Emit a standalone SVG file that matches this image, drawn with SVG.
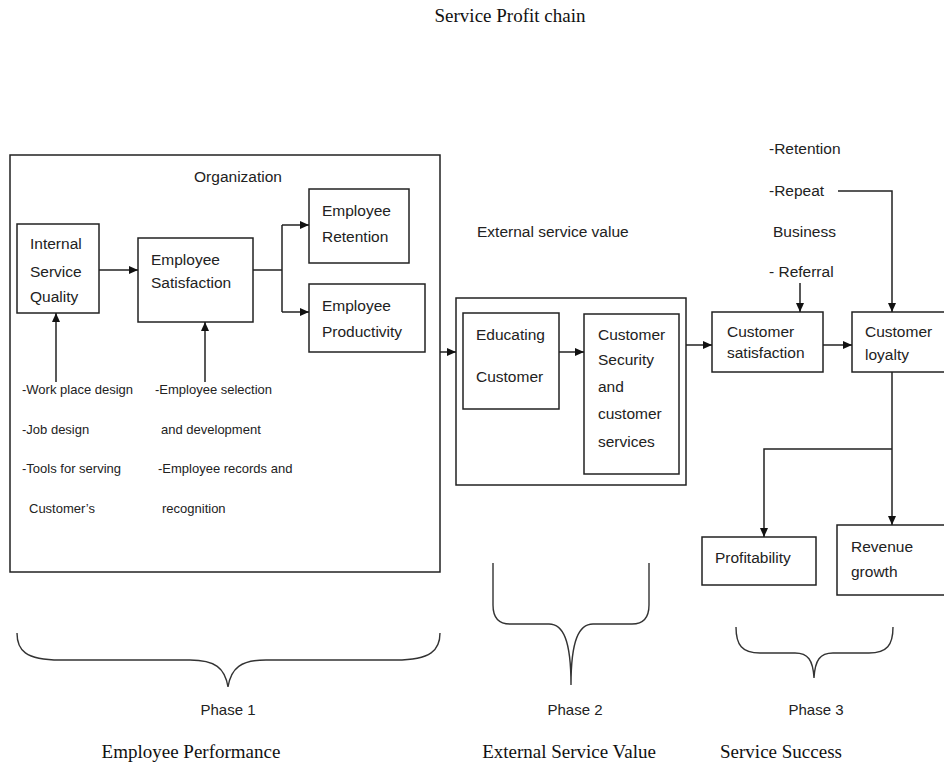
<svg xmlns="http://www.w3.org/2000/svg" width="944" height="765" viewBox="0 0 944 765">
<defs>
<marker id="ah" markerUnits="userSpaceOnUse" markerWidth="10" markerHeight="10" refX="9" refY="5" orient="auto">
<path d="M0,1 L9,5 L0,9 Z" fill="#111"/>
</marker>
<style>
.box{fill:#fff;stroke:#222;stroke-width:1.5}
.t{font-family:"Liberation Sans",Arial,sans-serif;font-size:15.5px;fill:#222}
.s{font-family:"Liberation Sans",Arial,sans-serif;font-size:13px;fill:#222}
.ph{font-family:"Liberation Sans",Arial,sans-serif;font-size:15px;fill:#222;text-anchor:middle}
.serif{font-family:"Liberation Serif","Times New Roman",serif;font-size:19px;fill:#111;text-anchor:middle}
.c{fill:none;stroke:#222;stroke-width:1.5}
.ca{fill:none;stroke:#222;stroke-width:1.5;marker-end:url(#ah)}
.br{fill:none;stroke:#333;stroke-width:1.4}
</style>
</defs>
<rect width="944" height="765" fill="#fff"/>
<text class="serif" x="510" y="22">Service Profit chain</text>

<g id="organization">
<rect class="box" x="10" y="155" width="430" height="417"/>
<text class="t" x="238" y="182" text-anchor="middle">Organization</text>
</g>
<g id="internal-service-quality">
<rect class="box" x="17" y="224" width="82" height="89"/>
<text class="t" x="30" y="249">Internal</text>
<text class="t" x="30" y="277">Service</text>
<text class="t" x="30" y="302">Quality</text>
</g>
<g id="employee-satisfaction">
<rect class="box" x="138" y="238" width="115" height="84"/>
<text class="t" x="151" y="265">Employee</text>
<text class="t" x="151" y="288">Satisfaction</text>
</g>
<g id="employee-retention">
<rect class="box" x="309" y="189" width="100" height="74"/>
<text class="t" x="322" y="216">Employee</text>
<text class="t" x="322" y="242">Retention</text>
</g>
<g id="employee-productivity">
<rect class="box" x="309" y="284" width="116" height="68"/>
<text class="t" x="322" y="311">Employee</text>
<text class="t" x="322" y="337">Productivity</text>
</g>
<g id="isq-inputs">
<text class="s" x="22" y="394">-Work place design</text>
<text class="s" x="22" y="434">-Job design</text>
<text class="s" x="22" y="473">-Tools for serving</text>
<text class="s" x="29" y="513">Customer’s</text>
</g>
<g id="es-inputs">
<text class="s" x="155" y="394">-Employee selection</text>
<text class="s" x="161" y="434">and development</text>
<text class="s" x="158" y="473">-Employee records and</text>
<text class="s" x="162" y="513">recognition</text>
</g>

<g id="external-service-value-label">
<text class="t" x="477" y="237">External service value</text>
</g>
<g id="external-service-box">
<rect class="box" x="456" y="298" width="230" height="187"/>
</g>
<g id="educating-customer">
<rect class="box" x="463" y="313" width="96" height="96"/>
<text class="t" x="476" y="340">Educating</text>
<text class="t" x="476" y="382">Customer</text>
</g>
<g id="customer-security">
<rect class="box" x="584" y="314" width="95" height="160"/>
<text class="t" x="598" y="340">Customer</text>
<text class="t" x="598" y="365">Security</text>
<text class="t" x="598" y="392">and</text>
<text class="t" x="598" y="419">customer</text>
<text class="t" x="598" y="447">services</text>
</g>

<g id="loyalty-drivers">
<text class="t" x="769" y="154">-Retention</text>
<text class="t" x="769" y="196">-Repeat</text>
<text class="t" x="773" y="237">Business</text>
<text class="t" x="769" y="277">- Referral</text>
</g>
<g id="customer-satisfaction">
<rect class="box" x="712" y="312" width="111" height="60"/>
<text class="t" x="727" y="337">Customer</text>
<text class="t" x="727" y="358">satisfaction</text>
</g>
<g id="customer-loyalty">
<rect class="box" x="852" y="312" width="100" height="60"/>
<text class="t" x="865" y="337">Customer</text>
<text class="t" x="865" y="360">loyalty</text>
</g>
<g id="profitability">
<rect class="box" x="702" y="537" width="114" height="48"/>
<text class="t" x="715" y="563">Profitability</text>
</g>
<g id="revenue-growth">
<rect class="box" x="837" y="525" width="115" height="70"/>
<text class="t" x="851" y="552">Revenue</text>
<text class="t" x="851" y="577">growth</text>
</g>

<g id="connectors">
<line class="ca" x1="99" y1="270" x2="138" y2="270"/>
<polyline class="c" points="253,270 282,270"/>
<polyline class="ca" points="282,225 282,225 309,225"/>
<polyline class="c" points="282,225 282,312"/>
<polyline class="ca" points="282,312 309,312"/>
<line class="ca" x1="56" y1="382" x2="56" y2="313"/>
<line class="ca" x1="205" y1="382" x2="205" y2="322"/>
<line class="ca" x1="440" y1="352" x2="456" y2="352"/>
<line class="ca" x1="559" y1="352" x2="584" y2="352"/>
<line class="ca" x1="686" y1="345" x2="712" y2="345"/>
<line class="ca" x1="823" y1="345" x2="852" y2="345"/>
<line class="ca" x1="800" y1="283" x2="800" y2="312"/>
<polyline class="ca" points="838,191 892,191 892,312"/>
<line class="ca" x1="892" y1="372" x2="892" y2="525"/>
<polyline class="ca" points="892,449 764,449 764,537"/>
</g>

<g id="phase1">
<path class="br" d="M17,633 C17,650 25,660 60,660 L190,660 C215,660 225,668 228,687 C231,668 241,660 266,660 L396,660 C431,660 440,650 440,633"/>
<text class="ph" x="228" y="715">Phase 1</text>
<text class="serif" x="191" y="758">Employee Performance</text>
</g>
<g id="phase2">
<path class="br" d="M493,563 L493,605 C493,618 499,624 510,624 L549,624 C563,624 571,640 571,685 C571,640 579,624 593,624 L632,624 C643,624 649,618 649,605 L649,563"/>
<text class="ph" x="575" y="715">Phase 2</text>
<text class="serif" x="569" y="758">External Service Value</text>
</g>
<g id="phase3">
<path class="br" d="M736,627 C736,645 742,653 760,653 L795,653 C808,653 813,660 814,678 C815,660 820,653 833,653 L869,653 C887,653 893,645 893,627"/>
<text class="ph" x="816" y="715">Phase 3</text>
<text class="serif" x="781" y="758">Service Success</text>
</g>
</svg>
